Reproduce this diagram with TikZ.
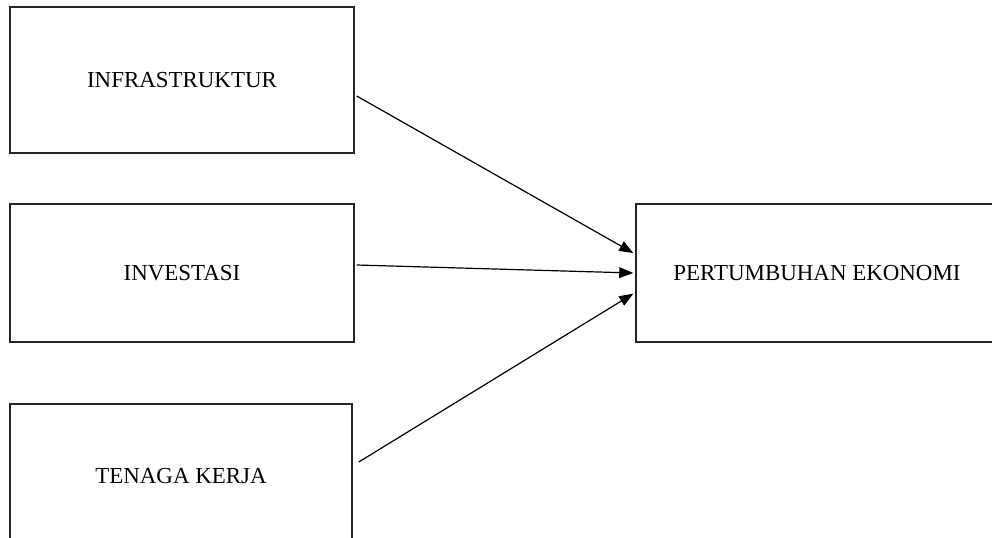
\documentclass[tikz,border=0pt]{standalone}
\usepackage{fontspec}
\setmainfont{Liberation Serif}
\usetikzlibrary{arrows.meta}
\begin{document}
\begin{tikzpicture}[x=0.75pt,y=-0.75pt,
  box/.style={draw=black!85,line width=1.1pt,inner sep=0pt,
    font=\fontsize{17.2}{20}\selectfont},
  conn/.style={line width=0.9pt,-{Triangle[length=10.5pt,width=8pt]}}]
\clip (0,0) rectangle (992,537);
\fill[white] (0,0) rectangle (992,537);
\node[box,minimum width=344*0.75pt,minimum height=146*0.75pt] (b1) at (182,80) {INFRASTRUKTUR};
\node[box,minimum width=344*0.75pt,minimum height=138*0.75pt] (b2) at (182,273) {INVESTASI};
\node[box,minimum width=342*0.75pt,minimum height=144*0.75pt] (b3) at (181,476) {TENAGA KERJA};
\node[box,minimum width=362*0.75pt,minimum height=138*0.75pt] (b4) at (817,273) {PERTUMBUHAN EKONOMI};
\draw[conn] ([xshift=1.5pt,yshift=-12pt]b1.east) -- ([xshift=-1.5pt,yshift=15pt]b4.west);
\draw[conn] ([xshift=1.5pt,yshift=6pt]b2.east) -- ([xshift=-1.5pt]b4.west);
\draw[conn] ([xshift=4.5pt,yshift=10.5pt]b3.east) -- ([xshift=-1.5pt,yshift=-15.5pt]b4.west);
\end{tikzpicture}
\end{document}
